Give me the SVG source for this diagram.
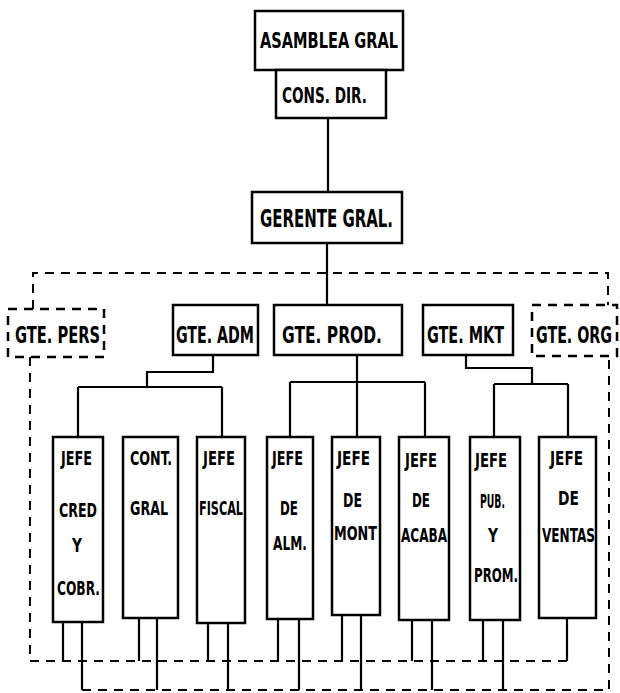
<svg xmlns="http://www.w3.org/2000/svg" width="620" height="693" viewBox="0 0 620 693">
<style>
.box{fill:#fff;stroke:#000;stroke-width:2.5}
.dbox{fill:#fff;stroke:#000;stroke-width:2.5;stroke-dasharray:9 7}
.ln{fill:none;stroke:#000;stroke-width:2.2}
.dl{fill:none;stroke:#000;stroke-width:2;stroke-dasharray:9 7}
text{font-family:"DejaVu Sans Condensed","Liberation Sans Narrow","DejaVu Sans",sans-serif;font-weight:bold;fill:#000}
.t1{font-size:22px}
.t2{font-size:24px}
.tg{font-size:16px}
.t3{font-size:20px}
</style>
<rect width="620" height="693" fill="#fff"/>
<g id="connectors">
<path class="ln" d="M328 118V192M327 243V305"/>
<path class="ln" d="M213 355V372H147V387M78 387H222M78 387V437M222 387V437"/>
<path class="ln" d="M357 355V437M290 382H425M290 382V437M425 382V437"/>
<path class="ln" d="M466 355V368H532V384M494 384H568M494 384V437M568 384V437"/>
<path class="ln" d="M63 622V661M82 622V690M139 618V661M157 618V690M208 623V661M228 623V690M278 619V661M299 619V690M342 615V661M361 615V690M412 620V661M432 620V690M483 620V661M503 620V690M567 618V661"/>
<path class="dl" d="M33 309V273H608V305"/>
<path class="dl" d="M30 357V661H567"/>
<path class="dl" d="M82 690H609V356"/>
</g>
<g id="asamblea"><rect class="box" x="255" y="11" width="148" height="59"/><text class="t1" x="260" y="48" textLength="138" lengthAdjust="spacingAndGlyphs">ASAMBLEA GRAL</text></g>
<g id="cons-dir"><rect class="box" x="276" y="70" width="110" height="48"/><text class="t1" x="282" y="103" textLength="85" lengthAdjust="spacingAndGlyphs">CONS. DIR.</text></g>
<g id="gerente"><rect class="box" x="252" y="192" width="150" height="51"/><text class="t2" x="260" y="227" textLength="133" lengthAdjust="spacingAndGlyphs">GERENTE GRAL.</text></g>
<g id="gte-pers"><rect class="dbox" x="8" y="309" width="96" height="48"/><text class="tg" transform="translate(15 343) scale(1 1.45)" textLength="85" lengthAdjust="spacingAndGlyphs">GTE. PERS</text></g>
<g id="gte-adm"><rect class="box" x="173" y="305" width="85" height="50"/><text class="tg" transform="translate(176 343) scale(1 1.45)" textLength="78" lengthAdjust="spacingAndGlyphs">GTE. ADM</text></g>
<g id="gte-prod"><rect class="box" x="274" y="305" width="128" height="50"/><text class="tg" transform="translate(282 343) scale(1 1.45)" textLength="100" lengthAdjust="spacingAndGlyphs">GTE. PROD.</text></g>
<g id="gte-mkt"><rect class="box" x="423" y="305" width="90" height="50"/><text class="tg" transform="translate(427 343) scale(1 1.45)" textLength="77" lengthAdjust="spacingAndGlyphs">GTE. MKT</text></g>
<g id="gte-org"><rect class="dbox" x="532" y="305" width="85" height="51"/><text class="tg" transform="translate(536 343) scale(1 1.45)" textLength="76" lengthAdjust="spacingAndGlyphs">GTE. ORG</text></g>
<g id="jefe-cred"><rect class="box" x="53" y="437" width="50" height="185"/>
<text class="t3" x="61" y="465" textLength="31" lengthAdjust="spacingAndGlyphs">JEFE</text>
<text class="t3" x="59" y="517" textLength="38" lengthAdjust="spacingAndGlyphs">CRED</text>
<text class="t3" x="72" y="552" textLength="10" lengthAdjust="spacingAndGlyphs">Y</text>
<text class="t3" x="57" y="595" textLength="43" lengthAdjust="spacingAndGlyphs">COBR.</text></g>
<g id="cont-gral"><rect class="box" x="123" y="437" width="55" height="181"/>
<text class="t3" x="130" y="465" textLength="42" lengthAdjust="spacingAndGlyphs">CONT.</text>
<text class="t3" x="130" y="515" textLength="38" lengthAdjust="spacingAndGlyphs">GRAL</text></g>
<g id="jefe-fiscal"><rect class="box" x="197" y="437" width="48" height="186"/>
<text class="t3" x="203" y="465" textLength="32" lengthAdjust="spacingAndGlyphs">JEFE</text>
<text class="t3" x="199" y="515" textLength="44" lengthAdjust="spacingAndGlyphs">FISCAL</text></g>
<g id="jefe-alm"><rect class="box" x="267" y="437" width="46" height="182"/>
<text class="t3" x="272" y="465" textLength="31" lengthAdjust="spacingAndGlyphs">JEFE</text>
<text class="t3" x="280" y="515" textLength="18" lengthAdjust="spacingAndGlyphs">DE</text>
<text class="t3" x="273" y="550" textLength="34" lengthAdjust="spacingAndGlyphs">ALM.</text></g>
<g id="jefe-mont"><rect class="box" x="332" y="437" width="48" height="178"/>
<text class="t3" x="337" y="465" textLength="33" lengthAdjust="spacingAndGlyphs">JEFE</text>
<text class="t3" x="343" y="507" textLength="19" lengthAdjust="spacingAndGlyphs">DE</text>
<text class="t3" x="334" y="540" textLength="43" lengthAdjust="spacingAndGlyphs">MONT</text></g>
<g id="jefe-acaba"><rect class="box" x="399" y="437" width="50" height="183"/>
<text class="t3" x="405" y="467" textLength="32" lengthAdjust="spacingAndGlyphs">JEFE</text>
<text class="t3" x="412" y="507" textLength="18" lengthAdjust="spacingAndGlyphs">DE</text>
<text class="t3" x="401" y="542" textLength="46" lengthAdjust="spacingAndGlyphs">ACABA</text></g>
<g id="jefe-pub"><rect class="box" x="470" y="437" width="50" height="183"/>
<text class="t3" x="475" y="467" textLength="32" lengthAdjust="spacingAndGlyphs">JEFE</text>
<text class="t3" x="480" y="508" textLength="25" lengthAdjust="spacingAndGlyphs">PUB.</text>
<text class="t3" x="488" y="542" textLength="10" lengthAdjust="spacingAndGlyphs">Y</text>
<text class="t3" x="474" y="582" textLength="44" lengthAdjust="spacingAndGlyphs">PROM.</text></g>
<g id="jefe-ventas"><rect class="box" x="539" y="437" width="57" height="181"/>
<text class="t3" x="550" y="465" textLength="33" lengthAdjust="spacingAndGlyphs">JEFE</text>
<text class="t3" x="558" y="505" textLength="21" lengthAdjust="spacingAndGlyphs">DE</text>
<text class="t3" x="542" y="542" textLength="53" lengthAdjust="spacingAndGlyphs">VENTAS</text></g>
</svg>
